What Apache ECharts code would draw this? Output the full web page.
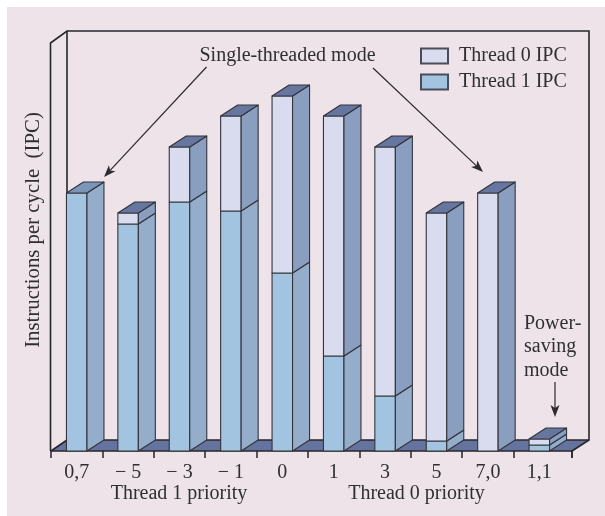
<!DOCTYPE html>
<html><head><meta charset="utf-8">
<style>html,body{margin:0;padding:0;background:#fff}#c{width:605px;height:516px}</style>
<script src="https://cdn.jsdelivr.net/npm/echarts@6/dist/echarts.min.js"></script>
</head><body><div id="c"></div>
<script>
const categories = ['0,7','\u2212 5','\u2212 3','\u2212 1','0','1','3','5','7,0','1,1'];
const thread1 = [1.29,1.135,1.245,1.20,0.89,0.475,0.275,0.05,0,0.03];
const thread0 = [0,0.055,0.275,0.475,0.885,1.20,1.245,1.14,1.29,0.03];
const tickPositions = [0,1,2,3,4,5,6,7,8,9,10.136];
const labelPositions = categories.map((_,i)=>i+0.5);

const FONT='"Liberation Serif"', INK='#2f2f33', EDGE='#33343c';
const BG='#eee3e9', FLOOR='#65749f';
const DX=17, DY=-11, W=20.5;

function poly(points,fill){
  return {type:'polygon',shape:{points},style:{fill,stroke:EDGE,lineWidth:1.1,lineJoin:'round'}};
}
function renderer(front,side,top){
  return function(params,api){
    const v=api.value(1); if(!v) return {type:'group',children:[]};
    const b=api.coord([api.value(0),api.value(2)]);
    const t=api.coord([api.value(0),api.value(2)+v]);
    const l=b[0]-W/2,r=b[0]+W/2,yb=b[1],yt=t[1];
    const kids=[
      poly([[l,yb],[r,yb],[r,yt],[l,yt]],front),
      poly([[r,yb],[r+DX,yb+DY],[r+DX,yt+DY],[r,yt]],side)
    ];
    if(api.value(3)) kids.push(poly([[l,yt],[r,yt],[r+DX,yt+DY],[l+DX,yt+DY]],top));
    return {type:'group',children:kids};
  };
}
const data1=thread1.map((v,i)=>[i+0.5,v,0,thread0[i]===0?1:0]);
const data0=thread0.map((v,i)=>[i+0.5,v,thread1[i],1]);

function txt(x,y,s,size,align){
  return {type:'text',x,y,z:100,style:{text:s,fontFamily:FONT,fontSize:size,fill:INK,align:align||'center',verticalAlign:'middle'}};
}
function line(pts,w,c){
  return {type:'polyline',z:1,shape:{points:pts},style:{fill:'none',stroke:c||'#26262c',lineWidth:w||1.6,lineJoin:'miter'}};
}
function arrow(x0,y0,x1,y1){
  const a=Math.atan2(y1-y0,x1-x0),L=12,H=4.5;
  const bx=x1-L*Math.cos(a),by=y1-L*Math.sin(a);
  const nx=-Math.sin(a)*H,ny=Math.cos(a)*H;
  const ix=x1-L*0.75*Math.cos(a),iy=y1-L*0.75*Math.sin(a);
  return [
    {type:'line',z:100,shape:{x1:x0,y1:y0,x2:ix,y2:iy},style:{stroke:'#2a2a30',lineWidth:1.2}},
    {type:'polygon',z:100,shape:{points:[[x1,y1],[bx+nx,by+ny],[ix,iy],[bx-nx,by-ny]]},style:{fill:'#2a2a30'}}
  ];
}
const chart=echarts.init(document.getElementById('c'),null,{renderer:'canvas'});
chart.setOption({
  animation:false,
  backgroundColor:'#fff',
  grid:{left:51,right:33,top:9,bottom:65},
  legend:{
    left:415,top:41,orient:'vertical',icon:'rect',itemWidth:27,itemHeight:15,itemGap:6,
    selectedMode:false,
    data:['Thread 0 IPC','Thread 1 IPC'],
    textStyle:{fontFamily:FONT,fontSize:20,color:INK,padding:[0,0,0,6]}
  },
  xAxis:{
    type:'value',min:0,max:10.136,
    axisLine:{show:true,lineStyle:{color:'#26262c',width:1.5}},
    splitLine:{show:false},
    axisTick:{show:true,length:7,customValues:tickPositions,lineStyle:{color:'#26262c',width:1.5}},
    axisLabel:{
      show:true,customValues:labelPositions,margin:12,hideOverlap:false,showMinLabel:true,showMaxLabel:true,
      fontFamily:FONT,fontSize:20,color:INK,
      formatter:v=>categories[Math.floor(v)]
    }
  },
  yAxis:{
    type:'value',min:0,max:2.21,
    axisLine:{show:false},axisTick:{show:false},axisLabel:{show:false},splitLine:{show:false},
    name:'Instructions per cycle  (IPC)',nameLocation:'middle',nameGap:7,
    nameTextStyle:{fontFamily:FONT,fontSize:20.8,color:INK}
  },
  series:[
    {name:'Thread 1 IPC',type:'custom',coordinateSystem:'cartesian2d',z:5,
     itemStyle:{color:'#a2c4e0',borderColor:'#4a4c58',borderWidth:1},
     encode:{x:0,y:1},clip:false,data:data1,
     renderItem:renderer('#a2c4e0','#93adcb','#7b96b9')},
    {name:'Thread 0 IPC',type:'custom',coordinateSystem:'cartesian2d',z:5,
     itemStyle:{color:'#d9dcee',borderColor:'#4a4c58',borderWidth:1},
     encode:{x:0,y:1},clip:false,data:data0,
     renderItem:renderer('#d9dcee','#8a9fbf','#66769f')}
  ],
  graphic:{elements:[
    {type:'rect',z:-10,shape:{x:7,y:7,width:598,height:509},style:{fill:BG}},
    {type:'polygon',z:0,shape:{points:[[51,451],[67,440],[589,440],[572,451]]},style:{fill:FLOOR}},
    line([[50.5,451],[50.5,43],[67,31],[589,31],[589,440],[572,451]]),
    line([[67,31],[67,440],[51,451]]),
    line([[67,440],[589,440]]),
    {type:'line',z:1,shape:{x1:572,y1:451,x2:572,y2:458},style:{stroke:'#26262c',lineWidth:1.5}},
    txt(287.5,56,'Single-threaded mode',20),
    ...arrow(206.5,67,104,177),
    ...arrow(373,68,483,172),
    txt(524,324,'Power-',20,'left'),
    txt(524,347,'saving',20,'left'),
    txt(524,371,'mode',20,'left'),
    ...arrow(555,382,555,417),
    txt(179,494,'Thread 1 priority',20),
    txt(416.5,494,'Thread 0 priority',20)
  ]}
});
</script></body></html>
